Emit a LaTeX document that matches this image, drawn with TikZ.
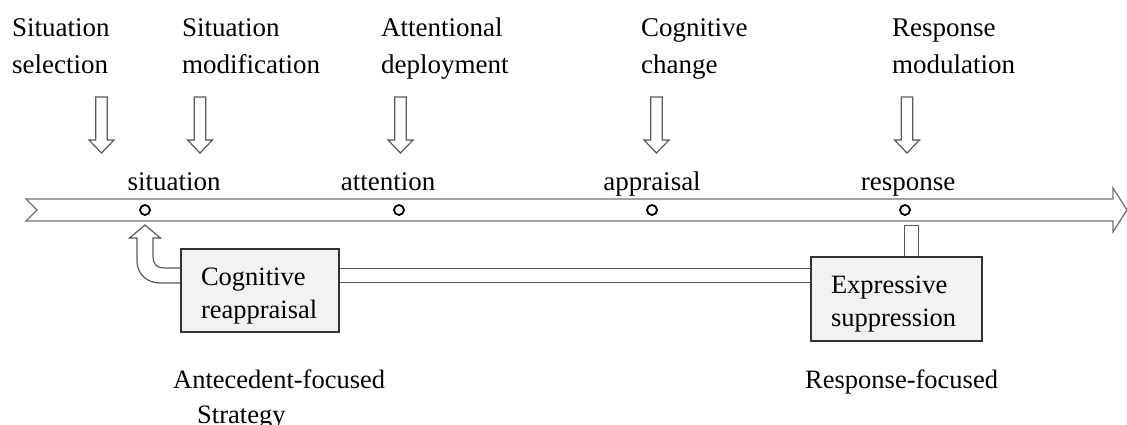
\documentclass[tikz,border=0pt]{standalone}
\usepackage{fontspec}
\setmainfont{Liberation Serif}
\usepackage{tikz}
\usetikzlibrary{backgrounds}
\definecolor{edge}{HTML}{5A5A5A}
\definecolor{boxfill}{HTML}{F2F2F2}
\tikzstyle{stage} = [anchor=base west, align=left, inner sep=0, font=\fontsize{27}{37}\selectfont]
\tikzstyle{point} = [anchor=base, inner sep=0, font=\fontsize{27}{32}\selectfont]
\tikzstyle{tag} = [anchor=base west, align=left, inner sep=0, font=\fontsize{26.5}{35}\selectfont]
\tikzstyle{dot} = [circle, draw=black, line width=1.8pt, fill=white, inner sep=0, minimum size=10pt]
\tikzstyle{strategy} = [rectangle, draw=black!80, fill=boxfill, line width=1.2pt, align=left, inner xsep=20pt, inner ysep=0pt, text height=28pt, font=\fontsize{26.5}{33}\selectfont]
\tikzstyle{pipe} = [draw=edge, line width=1.2pt, double=white, double distance=12.6pt, line cap=rect]
\tikzstyle{hollow} = [draw=edge, line width=1.2pt, fill=white, line join=miter]

\begin{document}
\begin{tikzpicture}[x=1pt, y=-1pt]
\useasboundingbox (0,0) rectangle (1127,424);

% the five regulation families (base = last line)
\node (sitsel) [stage] at (12,73) {Situation\\selection};
\node (sitmod) [stage] at (182,73) {Situation\\modification};
\node (attdep) [stage] at (381,73) {Attentional\\deployment};
\node (cogchg) [stage] at (641,73) {Cognitive\\change};
\node (resmod) [stage] at (892,73) {Response\\modulation};

% hollow arrows pointing down to the time line
\foreach \x in {101.5,200,400.5,656.5,907}
  \draw[hollow] (\x-5.8,97) -- (\x+5.8,97) -- (\x+5.8,140) -- (\x+12.5,140)
    -- (\x,153) -- (\x-12.5,140) -- (\x-5.8,140) -- cycle;

% time line
\draw[hollow, draw=edge!85, line width=1.3pt] (26,199) -- (37,210) -- (26,221) -- (1113,221)
  -- (1113,232) -- (1127,210) -- (1113,188) -- (1113,199) -- cycle;

\node (sit) [point] at (174,190) {situation};
\node (att) [point] at (388,190) {attention};
\node (app) [point] at (652,190) {appraisal};
\node (resp) [point] at (908,190) {response};

\node (sitdot) [dot] at (145,210) {};
\node (attdot) [dot] at (399,210) {};
\node (appdot) [dot] at (652,210) {};
\node (respdot) [dot] at (905,210) {};

% the two strategies
\node (reapp) [strategy, text width=118pt, minimum height=83pt] at (260,290.5) {Cognitive\\reappraisal};
\node (supp) [strategy, text width=131pt, minimum height=84pt] at (896.5,299) {Expressive\\suppression};

\begin{scope}[on background layer]
\draw[pipe] ([yshift=15pt]reapp.east) -- ([yshift=15pt]reapp.east -| supp.west);
\draw[pipe] ([xshift=6.5pt, yshift=-22.5pt]respdot.center) -- ([xshift=6.5pt]respdot.center |- supp.north);
\draw[hollow] (190,268) -- (164,268) .. controls (157,268) and (153,264) .. (153,257) -- (153,238)
  -- (160.5,238) -- (145,225) -- (129.5,238) -- (137,238) -- (137,261)
  .. controls (137,274) and (147,283) .. (160,283) -- (190,283) -- cycle;
\end{scope}

\node (antec) [tag] at (173,423) {Antecedent-focused\\\hspace*{24pt}Strategy};
\node (respf) [tag] at (805,388) {Response-focused};
\end{tikzpicture}
\end{document}
